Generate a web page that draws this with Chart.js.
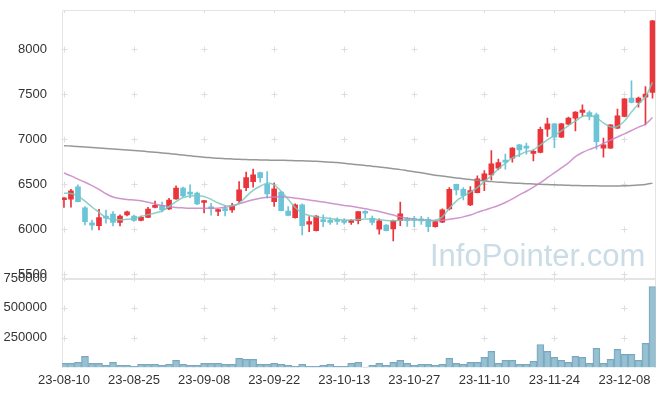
<!DOCTYPE html>
<html>
<head>
<meta charset="utf-8">
<script src="https://cdn.jsdelivr.net/npm/chart.js@4.4.0/dist/chart.umd.min.js"></script>
<style>
  html, body { margin: 0; padding: 0; background: #fff; }
  #wrap { position: relative; width: 665px; height: 396px; }
  #wrap canvas { position: absolute; left: 0; top: 0; }
</style>
</head>
<body>
<div id="wrap">
  <canvas id="priceChart" width="665" height="300"></canvas>
  <canvas id="volumeChart" width="665" height="396"></canvas>
</div>
<script>
// trading days (yy-mm-dd)
const dates = [
  "23-08-10","23-08-11","23-08-14","23-08-16","23-08-17","23-08-18","23-08-21","23-08-22","23-08-23","23-08-24",
  "23-08-25","23-08-28","23-08-29","23-08-30","23-08-31","23-09-01","23-09-04","23-09-05","23-09-06","23-09-07",
  "23-09-08","23-09-11","23-09-12","23-09-13","23-09-14","23-09-15","23-09-18","23-09-19","23-09-20","23-09-21",
  "23-09-22","23-09-25","23-09-26","23-09-27","23-10-04","23-10-05","23-10-06","23-10-10","23-10-11","23-10-12",
  "23-10-13","23-10-16","23-10-17","23-10-18","23-10-19","23-10-20","23-10-23","23-10-24","23-10-25","23-10-26",
  "23-10-27","23-10-30","23-10-31","23-11-01","23-11-02","23-11-03","23-11-06","23-11-07","23-11-08","23-11-09",
  "23-11-10","23-11-13","23-11-14","23-11-15","23-11-16","23-11-17","23-11-20","23-11-21","23-11-22","23-11-23",
  "23-11-24","23-11-27","23-11-28","23-11-29","23-11-30","23-12-01","23-12-04","23-12-05","23-12-06","23-12-07",
  "23-12-08","23-12-11","23-12-12","23-12-13","23-12-14"
];

const openPrices = [
  6325,6332,6470,6235,6070,6038,6145,6165,6072,6158,
  6145,6095,6130,6240,6262,6222,6335,6455,6405,6400,
  6295,6245,6195,6220,6212,6316,6460,6527,6628,6498,
  6305,6410,6200,6126,6268,6053,5982,6100,6100,6095,
  6100,6072,6093,6193,6120,5997,6045,6000,6093,6105,
  6105,6105,6108,6027,6075,6223,6498,6442,6268,6405,
  6538,6602,6676,6757,6787,6935,6916,6840,6850,7110,
  7169,7021,7166,7232,7295,7295,7269,6899,6899,7121,
  7250,7455,7406,7466,7517
];
const highPrices = [
  6350,6442,6490,6250,6100,6220,6210,6195,6157,6200,
  6155,6145,6240,6310,6300,6340,6480,6465,6490,6410,
  6315,6285,6222,6260,6285,6527,6632,6665,6632,6638,
  6510,6420,6250,6280,6280,6138,6150,6157,6125,6125,
  6115,6105,6195,6205,6145,6112,6050,6100,6298,6130,
  6140,6140,6131,6100,6225,6460,6500,6460,6472,6590,
  6650,6872,6776,6832,6905,6940,6954,6880,7132,7232,
  7175,7175,7245,7305,7380,7314,7288,7010,7160,7333,
  7450,7647,7465,7584,8320
];
const lowPrices = [
  6240,6242,6300,6045,5990,5990,6065,6035,6035,6145,
  6085,6090,6125,6235,6190,6215,6330,6360,6345,6270,
  6180,6155,6148,6146,6185,6287,6427,6465,6520,6342,
  6250,6200,6145,6120,5935,5971,5978,6027,6050,6050,
  6055,6050,6058,6125,6045,5942,5978,5867,6038,6030,
  6025,6050,5971,6020,6070,6212,6380,6323,6260,6400,
  6427,6546,6657,6665,6743,6805,6832,6757,6845,7028,
  6905,7015,7160,7091,7258,7213,6887,6798,6895,7115,
  7245,7400,7355,7158,7455
];
const closePrices = [
  6345,6424,6305,6082,6042,6126,6120,6072,6145,6192,
  6095,6130,6222,6258,6212,6322,6455,6368,6388,6278,
  6312,6225,6212,6205,6257,6435,6572,6602,6572,6390,
  6446,6205,6150,6268,6038,6082,6145,6082,6072,6085,
  6072,6097,6193,6175,6072,6090,5982,6090,6168,6093,
  6095,6090,6027,6082,6212,6442,6435,6372,6427,6557,
  6613,6724,6738,6743,6899,6880,6899,6860,7109,7169,
  7021,7169,7232,7299,7321,7250,6972,6935,7158,7258,
  7447,7406,7455,7500,8315
];

// moving average lines
const ma5 = [
  6398,6395,6365,6310,6245,6185,6125,6105,6102,6108,
  6118,6140,6160,6178,6200,6250,6305,6350,6368,6370,
  6362,6330,6290,6260,6258,6285,6360,6430,6475,6510,
  6490,6420,6330,6240,6180,6150,6135,6125,6118,6105,
  6098,6100,6105,6110,6112,6105,6095,6092,6098,6103,
  6100,6098,6095,6095,6135,6230,6310,6365,6410,6460,
  6530,6590,6670,6730,6790,6825,6860,6880,6935,6990,
  7040,7090,7150,7200,7250,7262,7235,7180,7135,7140,
  7200,7300,7390,7470,7630
];
const ma20 = [
  6622,6590,6555,6520,6482,6440,6392,6355,6338,6328,
  6322,6315,6298,6278,6262,6248,6240,6235,6231,6230,
  6230,6230,6232,6242,6257,6280,6303,6325,6342,6352,
  6357,6358,6352,6343,6333,6322,6312,6300,6287,6274,
  6262,6252,6238,6225,6210,6195,6175,6155,6135,6120,
  6110,6102,6097,6095,6098,6108,6120,6135,6155,6185,
  6210,6235,6262,6295,6335,6379,6420,6465,6515,6570,
  6625,6680,6735,6805,6850,6885,6913,6950,6988,7023,
  7058,7095,7132,7166,7239
];
const maLong = [
  6926,6922,6918,6912,6906,6900,6895,6889,6883,6878,
  6872,6866,6860,6853,6846,6838,6830,6822,6814,6806,
  6798,6792,6786,6782,6778,6775,6772,6770,6768,6766,
  6765,6764,6762,6760,6758,6755,6752,6748,6743,6738,
  6730,6722,6714,6707,6698,6690,6680,6670,6660,6648,
  6636,6625,6612,6598,6588,6578,6568,6558,6549,6541,
  6533,6527,6521,6516,6512,6508,6504,6500,6497,6494,
  6491,6488,6486,6484,6482,6481,6480,6479,6479,6479,
  6480,6483,6488,6496,6510
];

const volumes = [
  35000,35000,43000,93000,35000,35000,18000,43000,18000,18000,
  10000,27000,27000,27000,18000,27000,60000,27000,18000,18000,
  35000,35000,35000,27000,27000,77000,68000,68000,27000,27000,
  35000,27000,18000,10000,27000,10000,10000,18000,27000,10000,
  10000,35000,43000,3000,18000,35000,18000,43000,60000,35000,
  18000,27000,27000,18000,27000,77000,35000,27000,43000,43000,
  85000,135000,35000,60000,60000,27000,27000,52000,193000,135000,
  85000,60000,43000,93000,85000,35000,160000,35000,68000,152000,
  110000,110000,60000,202000,679000
];

const priceTicks = [5500, 6000, 6500, 7000, 7500, 8000];
const volumeTicks = [250000, 500000, 750000];
const dateTickIdx = [0, 10, 20, 30, 40, 50, 60, 70, 80];

const UP = "#ea353b";
const DOWN = "#6cc4d9";
const candleColors = closePrices.map((c, i) => (c >= openPrices[i] ? UP : DOWN));
const tickFont = { family: "'Liberation Sans', Arial, sans-serif", size: 13 };

function toPoints(arr) {
  return arr.map((v, i) => ({ x: i, y: v }));
}

function fixTicks(values) {
  return (scale) => {
    scale.ticks = values.map((v) => ({ value: v }));
  };
}

// keep the y axis at a fixed width and stop it from pushing the plot area
function fixWidth(scale) {
  scale.width = 62;
  scale.paddingTop = 0;
  scale.paddingBottom = 0;
}

// light "+" marks where the x and y ticks meet, plus the frame
const gridCross = {
  id: "gridCross",
  beforeDatasetsDraw(chart, args, opts) {
    const { ctx, chartArea, scales } = chart;
    const xs = dateTickIdx.map((v) => scales.x.getPixelForValue(v));
    const ys = scales.y.ticks.map((t) => scales.y.getPixelForValue(t.value));
    ctx.save();
    ctx.strokeStyle = "#dedede";
    ctx.lineWidth = 1;
    ctx.beginPath();
    xs.forEach((x) => {
      x = Math.round(x) + 0.5;
      ys.forEach((y) => {
        y = Math.round(y) + 0.5;
        ctx.moveTo(x - 3, y);
        ctx.lineTo(x + 3, y);
        ctx.moveTo(x, y - 3);
        ctx.lineTo(x, y + 3);
      });
      if (opts.topMarks) {
        ctx.moveTo(x, chartArea.top);
        ctx.lineTo(x, chartArea.top + 3);
      }
    });
    ctx.stroke();

    ctx.strokeStyle = "#e4e4e4";
    ctx.beginPath();
    const l = Math.round(chartArea.left) + 0.5;
    const r = Math.round(chartArea.right) - 0.5;
    const t = Math.round(chartArea.top) + 0.5;
    const b = Math.round(chartArea.bottom);
    ctx.moveTo(l, b);
    ctx.lineTo(l, t);
    ctx.lineTo(r, t);
    ctx.lineTo(r, b);
    ctx.stroke();
    if (opts.thickTop) {
      ctx.fillStyle = "#e4e4e4";
      ctx.fillRect(chartArea.left, Math.round(chartArea.top), chartArea.width, 2);
    }
    ctx.restore();
  },
};

const watermark = {
  id: "watermark",
  beforeDatasetsDraw(chart) {
    const { ctx } = chart;
    ctx.save();
    ctx.fillStyle = "#cadce6";
    ctx.font = "31px 'Liberation Sans', Arial, sans-serif";
    ctx.textBaseline = "alphabetic";
    ctx.fillText("InfoPointer.com", 430, 266);
    ctx.restore();
  },
};

const xRange = { min: -0.28, max: 84.43, offset: false };

new Chart(document.getElementById("priceChart"), {
  type: "bar",
  data: {
    datasets: [
      {
        type: "line",
        data: toPoints(ma5),
        borderColor: "rgba(120,200,190,0.85)",
        borderWidth: 1.5,
        pointRadius: 0,
        tension: 0.3,
        order: 0,
      },
      {
        type: "line",
        data: toPoints(ma20),
        borderColor: "rgba(200,130,196,0.85)",
        borderWidth: 1.5,
        pointRadius: 0,
        tension: 0.3,
        order: 0,
      },
      {
        type: "line",
        data: toPoints(maLong),
        borderColor: "rgba(140,140,140,0.9)",
        borderWidth: 1.5,
        pointRadius: 0,
        tension: 0.3,
        order: 0,
      },
      {
        data: lowPrices.map((l, i) => ({ x: i, y: [l, highPrices[i]] })),
        backgroundColor: candleColors,
        barThickness: 1,
        grouped: false,
        order: 2,
      },
      {
        data: openPrices.map((o, i) => ({ x: i, y: [o, closePrices[i]] })),
        backgroundColor: candleColors,
        barThickness: 5,
        minBarLength: 2,
        grouped: false,
        order: 1,
      },
    ],
  },
  options: {
    responsive: false,
    animation: false,
    devicePixelRatio: 1,
    layout: { padding: { top: 10, right: 9.5, bottom: 22.3, left: 0 } },
    plugins: {
      legend: { display: false },
      tooltip: { enabled: false },
      gridCross: { topMarks: true },
    },
    scales: {
      x: { type: "linear", display: false, ...xRange },
      y: {
        min: 5459,
        max: 8434,
        afterBuildTicks: fixTicks(priceTicks),
        afterFit: fixWidth,
        grid: { display: false },
        border: { display: false },
        ticks: { color: "#333", font: tickFont, padding: 7, callback: (v) => String(v) },
      },
    },
  },
  plugins: [gridCross, watermark],
});

new Chart(document.getElementById("volumeChart"), {
  type: "bar",
  data: {
    datasets: [
      {
        data: toPoints(volumes),
        backgroundColor: "rgba(140,186,206,0.9)",
        borderColor: "#7aa7bc",
        borderWidth: 1,
        barPercentage: 1,
        categoryPercentage: 1,
      },
    ],
  },
  options: {
    responsive: false,
    animation: false,
    devicePixelRatio: 1,
    layout: { padding: { top: 278, right: 9.5, bottom: 0, left: 0 } },
    plugins: {
      legend: { display: false },
      tooltip: { enabled: false },
      gridCross: { thickTop: true },
    },
    scales: {
      x: {
        type: "linear",
        ...xRange,
        afterBuildTicks: fixTicks(dateTickIdx),
        afterFit: (s) => { s.height = 28.5; },
        grid: { display: false },
        border: { display: false },
        ticks: {
          color: "#333",
          font: tickFont,
          padding: -3,
          maxRotation: 0,
          autoSkip: false,
          callback: (v) => dates[v],
        },
      },
      y: {
        min: 0,
        max: 750000,
        afterBuildTicks: fixTicks(volumeTicks),
        afterFit: fixWidth,
        grid: { display: false },
        border: { display: false },
        ticks: { color: "#333", font: tickFont, padding: 7, callback: (v) => String(v) },
      },
    },
  },
  plugins: [gridCross],
});
</script>
</body>
</html>
